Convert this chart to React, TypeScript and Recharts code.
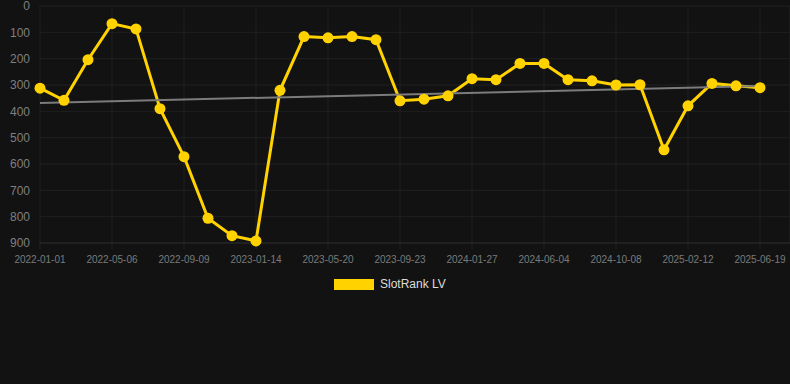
import React from 'react';
import { LineChart, Line, XAxis, YAxis, CartesianGrid, Legend } from 'recharts';

const dates = [
  '2022-01-01', '2022-02-12', '2022-03-26', '2022-05-06', '2022-06-17', '2022-07-29',
  '2022-09-09', '2022-10-21', '2022-12-02', '2023-01-14', '2023-02-25', '2023-04-08',
  '2023-05-20', '2023-07-01', '2023-08-12', '2023-09-23', '2023-11-04', '2023-12-16',
  '2024-01-27', '2024-03-09', '2024-04-22', '2024-06-04', '2024-07-16', '2024-08-27',
  '2024-10-08', '2024-11-19', '2024-12-31', '2025-02-12', '2025-03-26', '2025-05-07',
  '2025-06-19',
];

const rankValues = [
  312, 358, 204, 67, 87, 390, 572, 806, 872, 892, 320, 116, 121, 116, 128, 360,
  354, 341, 276, 280, 218, 218, 280, 284, 300, 299, 546, 379, 294, 303, 310,
];

const trendStart = 368;
const trendEnd = 304;

const yTicks = [0, 100, 200, 300, 400, 500, 600, 700, 800, 900];

const YELLOW = '#FFD200';

const data = dates.map((d, i) => ({
  date: d,
  rank: rankValues[i],
  trend: i === 0 ? trendStart : i === dates.length - 1 ? trendEnd : null,
}));

const LegendContent = () => (
  <div style={{ height: 20, position: 'relative', fontFamily: 'Arial, "Liberation Sans", sans-serif' }}>
    <div style={{ position: 'absolute', left: 334, top: 4, width: 40, height: 11, background: YELLOW }} />
    <div style={{ position: 'absolute', left: 380, top: 2, fontSize: 12, color: '#dddddd', lineHeight: '14px', whiteSpace: 'nowrap' }}>
      SlotRank LV
    </div>
  </div>
);

export default function App() {
  return (
    <div style={{ position: 'fixed', left: 0, top: 0, width: '100vw', height: '100vh', background: '#121212' }}>
      <div style={{ position: 'absolute', left: 0, top: 0 }}>
        <LineChart
          width={790}
          height={384}
          data={data}
          margin={{ top: 6, right: 0, bottom: 91, left: 0 }}
          style={{ fontFamily: 'Arial, "Liberation Sans", sans-serif', overflow: 'visible' }}
        >
          <CartesianGrid stroke="#202020" strokeWidth={1} />
          <XAxis
            dataKey="date"
            interval={2}
            height={30}
            padding={{ left: 0, right: 30 }}
            axisLine={{ stroke: '#2a2a2a' }}
            tickLine={{ stroke: '#222222' }}
            tickSize={6}
            tickMargin={7}
            tick={{ fill: '#7a7a7a', fontSize: 10 }}
          />
          <YAxis
            reversed
            domain={[0, 900]}
            ticks={yTicks}
            interval={0}
            width={40}
            axisLine={false}
            tickLine={false}
            tickMargin={4}
            tick={{ fill: '#7f7f7f', fontSize: 12 }}
          />
          <Legend
            verticalAlign="bottom"
            content={<LegendContent />}
            wrapperStyle={{ left: 0, width: 790, top: 275, bottom: 'auto' }}
          />
          <Line
            dataKey="rank"
            stroke={YELLOW}
            strokeWidth={3}
            dot={false}
            activeDot={false}
            isAnimationActive={false}
            legendType="none"
          />
          <Line
            dataKey="trend"
            stroke="#7c7c7c"
            strokeWidth={2}
            dot={false}
            activeDot={false}
            connectNulls
            isAnimationActive={false}
            legendType="none"
          />
          <Line
            dataKey="rank"
            stroke="none"
            strokeWidth={0}
            dot={{ r: 5.5, fill: YELLOW, stroke: YELLOW, strokeWidth: 0 }}
            activeDot={false}
            isAnimationActive={false}
            legendType="none"
          />
        </LineChart>
      </div>
    </div>
  );
}
